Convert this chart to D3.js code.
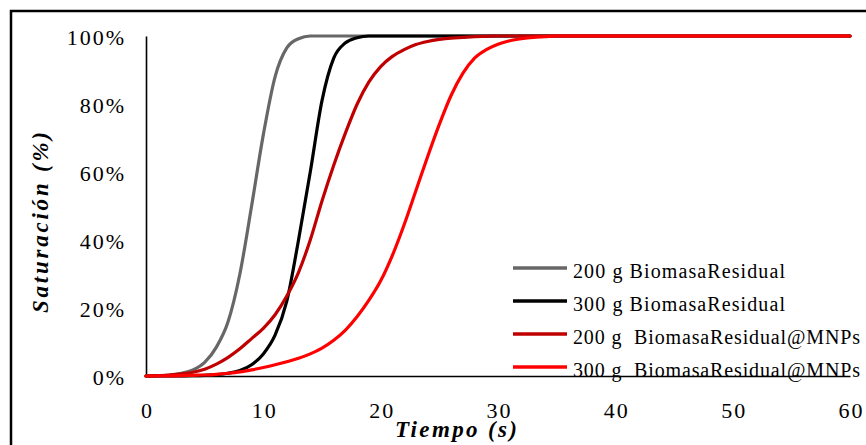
<!DOCTYPE html>
<html>
<head>
<meta charset="utf-8">
<script src="https://cdn.jsdelivr.net/npm/d3@7"></script>
<style>
  html, body { margin: 0; padding: 0; background: #fff; }
  svg { display: block; }
</style>
</head>
<body>
<svg id="chart" width="866" height="445"></svg>
<script>
// ---- Data ----
const time = d3.range(0, 61); // seconds 0..60

const serie200Biomasa = [0,0.1,0.3,0.8,1.8,4,8.5,16,30,50,71,88,96.5,99.2,100,100,100,100,100,100,100,100,100,100,100,100,100,100,100,100,100,100,100,100,100,100,100,100,100,100,100,100,100,100,100,100,100,100,100,100,100,100,100,100,100,100,100,100,100,100,100];
const serie300Biomasa = [0,0,0,0.05,0.1,0.2,0.4,0.8,1.6,3.3,6.5,12,22,40,60,81,93.5,98,99.5,100,100,100,100,100,100,100,100,100,100,100,100,100,100,100,100,100,100,100,100,100,100,100,100,100,100,100,100,100,100,100,100,100,100,100,100,100,100,100,100,100,100];
const serie200MNPs = [0,0.1,0.3,0.6,1.1,2,3.5,5.5,8,11,14,18,23.5,30.5,40,51.5,62,71.5,80,86.5,91,94,96,97.5,98.4,99,99.4,99.6,99.8,99.9,100,100,100,100,100,100,100,100,100,100,100,100,100,100,100,100,100,100,100,100,100,100,100,100,100,100,100,100,100,100,100];
const serie300MNPs = [0,0,0.05,0.1,0.2,0.3,0.5,0.8,1.2,1.8,2.5,3.3,4.2,5.2,6.5,8.2,10.5,13.5,17.5,22.3,28,35.5,44.5,54.5,64.5,74,82.5,89,93.5,96,97.6,98.6,99.2,99.6,99.8,100,100,100,100,100,100,100,100,100,100,100,100,100,100,100,100,100,100,100,100,100,100,100,100,100,100];

const seriesNames = ["200 g BiomasaResidual", "300 g BiomasaResidual", "200 g  BiomasaResidual@MNPs", "300 g  BiomasaResidual@MNPs"];
const seriesColors = ["#676767", "#000000", "#C00000", "#FF0000"];
const seriesValues = [serie200Biomasa, serie300Biomasa, serie200MNPs, serie300MNPs];

const xTicks = [0, 10, 20, 30, 40, 50, 60];
const yTicks = [0, 20, 40, 60, 80, 100];
const xTitle = "Tiempo (s)";
const yTitle = "Saturación (%)";

// ---- Layout ----
const svg = d3.select("#chart");
const W = 866, H = 445;
const plot = { left: 146, right: 850, top: 36, bottom: 376 };
const FONT = "'Liberation Serif', 'Times New Roman', serif";

// outer border (right and bottom edges fall outside the picture)
svg.append("rect")
  .attr("x", 11).attr("y", 11)
  .attr("width", W + 20).attr("height", H + 20)
  .attr("fill", "none").attr("stroke", "#000").attr("stroke-width", 2.5);

const x = d3.scaleLinear().domain([0, 60]).range([plot.left, plot.right]);
const y = d3.scaleLinear().domain([0, 100]).range([plot.bottom, plot.top]);

// axes
const yAxis = svg.append("g")
  .attr("transform", `translate(${plot.left},0)`)
  .call(d3.axisLeft(y).tickValues(yTicks).tickSize(0).tickPadding(20).tickFormat(d => d + "%"));
const xAxis = svg.append("g")
  .attr("transform", `translate(0,${plot.bottom})`)
  .call(d3.axisBottom(x).tickValues(xTicks).tickSize(0).tickPadding(26).tickFormat(d3.format("d")));

[yAxis, xAxis].forEach(g => {
  g.select(".domain").attr("stroke", "#000").attr("stroke-width", 1.6);
  g.selectAll("text")
    .attr("font-family", FONT)
    .attr("font-size", 22)
    .attr("fill", "#000")
    .style("letter-spacing", "2px");
});
yAxis.selectAll("text").attr("dy", "0.4em");
xAxis.selectAll("text").attr("dx", "1px");

// lines
const line = d3.line()
  .x((d, i) => x(time[i]))
  .y(d => y(d))
  .curve(d3.curveMonotoneX);

svg.append("g")
  .selectAll("path")
  .data(seriesValues)
  .join("path")
  .attr("d", d => line(d))
  .attr("fill", "none")
  .attr("stroke", (d, i) => seriesColors[i])
  .attr("stroke-width", 3.2)
  .attr("stroke-linejoin", "round")
  .attr("stroke-linecap", "round");

// axis titles
svg.append("text")
  .attr("x", 395).attr("y", 437)
  .attr("font-family", FONT)
  .attr("font-size", 23)
  .attr("font-weight", "bold")
  .attr("font-style", "italic")
  .attr("textLength", 122)
  .attr("lengthAdjust", "spacing")
  .text(xTitle);

svg.append("text")
  .attr("transform", "translate(48,313) rotate(-90)")
  .attr("font-family", FONT)
  .attr("font-size", 23)
  .attr("font-weight", "bold")
  .attr("font-style", "italic")
  .attr("textLength", 181)
  .attr("lengthAdjust", "spacing")
  .text(yTitle);

// legend
const legendLengths = [212, 212, 287, 287];
const legend = svg.append("g");
const legendItems = legend.selectAll("g")
  .data(seriesNames)
  .join("g")
  .attr("transform", (d, i) => `translate(513,${268 + i * 33})`);

legendItems.append("line")
  .attr("x1", 0).attr("x2", 54)
  .attr("y1", 0).attr("y2", 0)
  .attr("stroke", (d, i) => seriesColors[i])
  .attr("stroke-width", 3.5);

legendItems.append("text")
  .attr("x", 60).attr("y", 10)
  .attr("font-family", FONT)
  .attr("font-size", 20)
  .attr("fill", "#000")
  .attr("textLength", (d, i) => legendLengths[i])
  .attr("lengthAdjust", "spacing")
  .style("white-space", "pre")
  .text(d => d);
</script>
</body>
</html>
